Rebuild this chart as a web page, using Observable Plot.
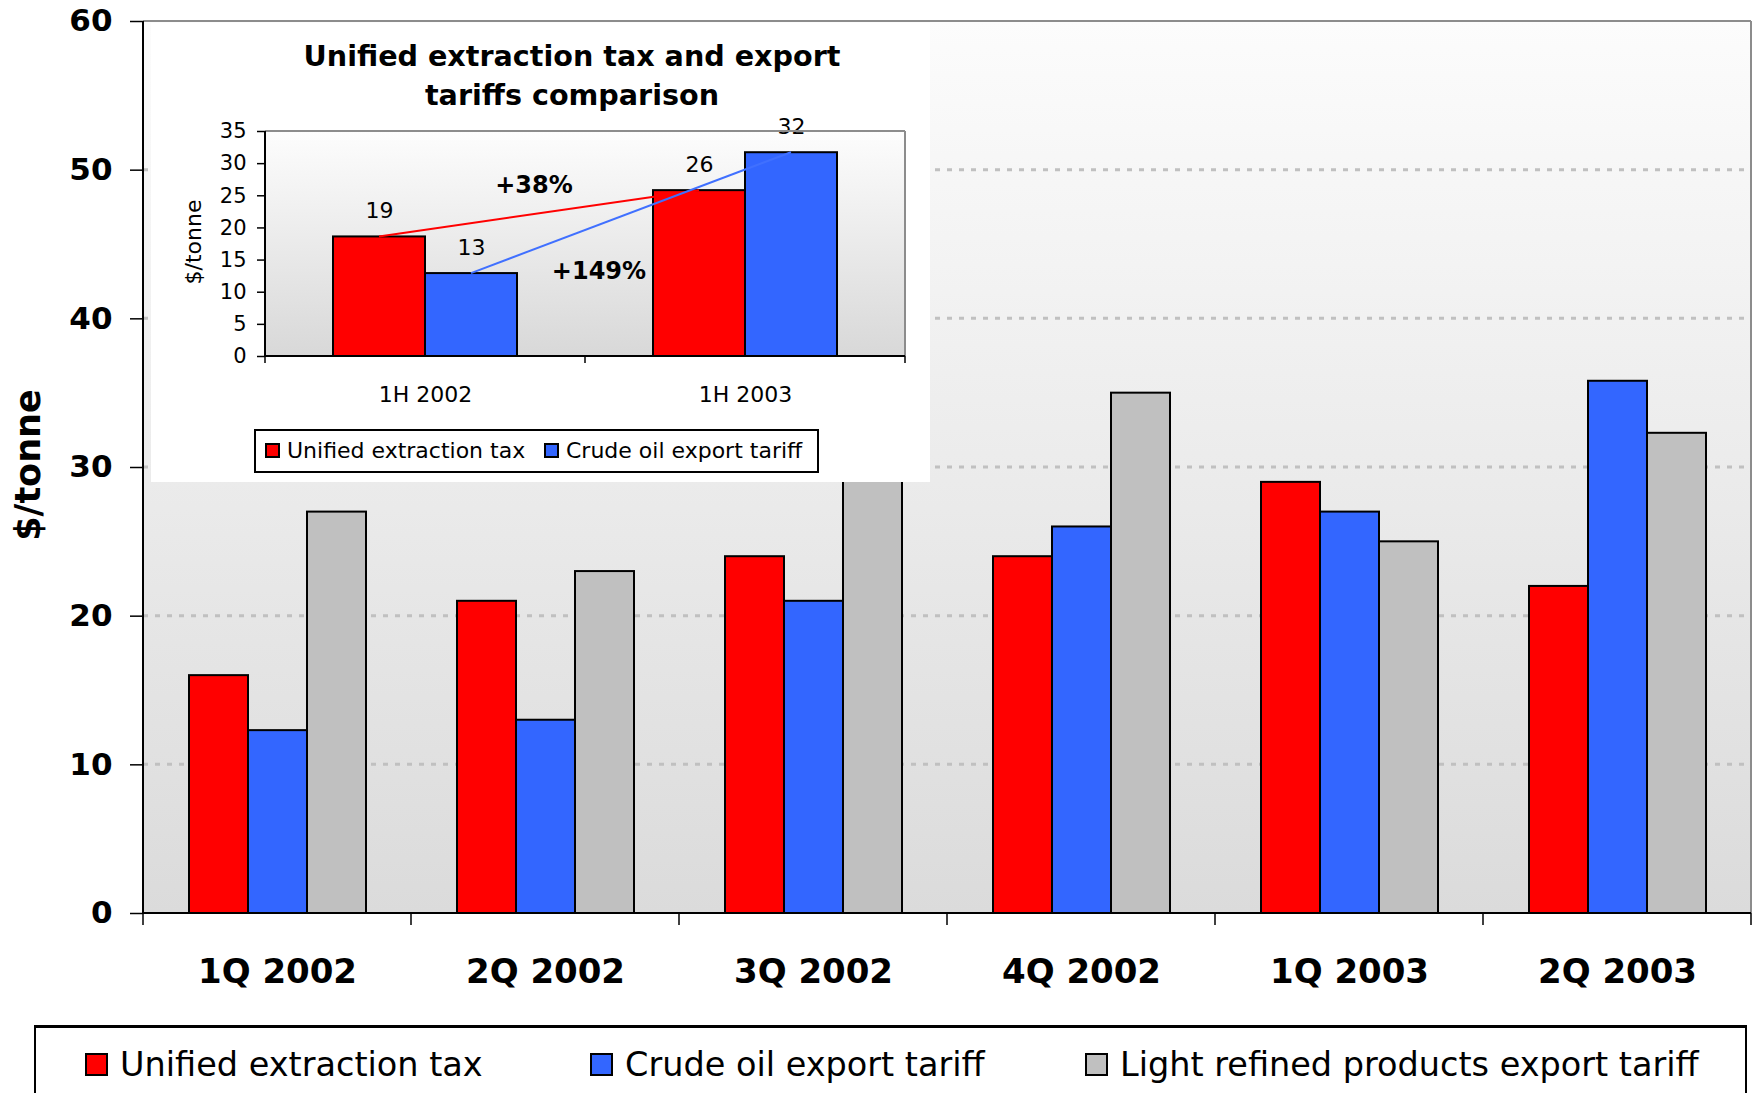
<!DOCTYPE html>
<html>
<head>
<meta charset="utf-8">
<script src="https://cdn.jsdelivr.net/npm/d3@7"></script>
<script src="https://cdn.jsdelivr.net/npm/@observablehq/plot@0.6"></script>
<style>
html, body { margin: 0; padding: 0; background: #fff; }
body { width: 1756px; height: 1093px; overflow: hidden; position: relative; font-family: "DejaVu Sans", Verdana, sans-serif; color: #000; }
#main { position: absolute; left: 0; top: 0; }
#ylab { position: absolute; left: 28px; top: 465px; transform: translate(-50%, -50%) rotate(-90deg); font-weight: bold; font-size: 35px; white-space: nowrap; }
#inset { position: absolute; left: 151px; top: 23px; width: 779px; height: 459px; background: #fff; }
#ititle { position: absolute; left: 21px; top: 14px; width: 800px; text-align: center; font-weight: bold; font-size: 28.6px; line-height: 39px; }
#iplot { position: absolute; left: 0; top: 97px; }
#iylab { position: absolute; left: 42px; top: 219px; transform: translate(-50%, -50%) rotate(-90deg); font-size: 22px; white-space: nowrap; }
#ilegend { position: absolute; left: 103px; top: 406px; width: 565px; height: 44px; box-sizing: border-box; border: 2px solid #000; font-size: 22px; }
.item { position: absolute; display: flex; align-items: center; white-space: nowrap; }
.sw { box-sizing: border-box; border: 2px solid #000; display: inline-block; }
#legend { position: absolute; left: 34px; top: 1025px; width: 1713px; height: 100px; box-sizing: border-box; border: 2px solid #000; border-top-width: 3px; font-size: 33.5px; }
</style>
</head>
<body>
<div id="main"></div>
<div id="ylab">$/tonne</div>
<div id="inset">
  <div id="ititle"></div>
  <div id="iplot"></div>
  <div id="iylab">$/tonne</div>
  <div id="ilegend"></div>
</div>
<div id="legend"></div>
<script>
// ---------- data ----------
const quarters = ["1Q 2002", "2Q 2002", "3Q 2002", "4Q 2002", "1Q 2003", "2Q 2003"];
const series = ["Unified extraction tax", "Crude oil export tariff", "Light refined products export tariff"];
const seriesColors = ["#ff0000", "#3366ff", "#c0c0c0"];
const extractionTax = [16, 21, 24, 24, 29, 22];
const crudeTariff = [12.3, 13, 21, 26, 27, 35.8];
const lightTariff = [27, 23, 31, 35, 25, 32.3];
const yTicks = [0, 10, 20, 30, 40, 50, 60];

const insetTitle = ["Unified extraction tax and export", "tariffs comparison"];
const halves = ["1H 2002", "1H 2003"];
const insetSeries = ["Unified extraction tax", "Crude oil export tariff"];
const insetExtraction = [18.6, 25.8];
const insetCrude = [12.9, 31.7];
const insetTicks = [0, 5, 10, 15, 20, 25, 30, 35];
const changeLabels = ["+38%", "+149%"];

// ---------- tables ----------
const valuesBySeries = [extractionTax, crudeTariff, lightTariff];
const mainData = quarters.flatMap((q, i) => series.map((s, j) => ({quarter: q, series: s, value: valuesBySeries[j][i]})));
const insetValues = [insetExtraction, insetCrude];
const insetData = halves.flatMap((h, i) => insetSeries.map((s, j) => ({half: h, series: s, value: insetValues[j][i]})));

const FONT = "'DejaVu Sans', Verdana, sans-serif";

function addGradient(svg, id, top, bottom) {
  const defs = d3.select(svg).insert("defs", ":first-child");
  const g = defs.append("linearGradient").attr("id", id).attr("x1", 0).attr("y1", 0).attr("x2", 0).attr("y2", 1);
  g.append("stop").attr("offset", "0%").attr("stop-color", top);
  g.append("stop").attr("offset", "100%").attr("stop-color", bottom);
}

// background + gridlines drawn once (in the first facet) across all facets
function bgRender(opt) {
  return (index, scales) => {
    const {x, y} = scales;
    const [x0, x1] = x.range();
    const g = d3.create("svg:g");
    if (index[0] !== 0) return g.node();
    const xEnd = x0 + (x1 - x0) * opt.n;
    g.append("rect").attr("x", x0).attr("y", y(opt.top)).attr("width", xEnd - x0).attr("height", y(0) - y(opt.top)).attr("fill", `url(#${opt.grad})`);
    (opt.grid || []).forEach(v => {
      g.append("line").attr("x1", x0).attr("x2", xEnd).attr("y1", y(v)).attr("y2", y(v))
        .attr("stroke", "#c0c0c0").attr("stroke-width", 3).attr("stroke-dasharray", "5,7");
    });
    return g.node();
  };
}

// category-boundary ticks, axis lines, frame and connectors inside each facet
function edgeRender(opt) {
  return (index, scales) => {
    const {x, y} = scales;
    const [x0, x1] = x.range();
    const yb = y(0), yt = y(opt.top);
    const i = index[0];
    const first = i === 0, last = i === opt.n - 1;
    const g = d3.create("svg:g");
    const line = (a, b, c, d, stroke, w) => g.append("line").attr("x1", a).attr("y1", b).attr("x2", c).attr("y2", d).attr("stroke", stroke).attr("stroke-width", w);
    if (opt.frame) {
      line(x0, yt, x1, yt, opt.frame, 2);
      if (last) line(x1, yt, x1, yb, opt.frame, 2);
    }
    if (opt.connectors && first) {
      const step = x1 - x0;
      opt.connectors.forEach(c => {
        const xa = x(c.series) + x.bandwidth() / 2;
        const xb = xa + step;
        const ya = y(c.values[0]), yb2 = y(c.values[1]);
        line(xa, ya, xb, yb2, c.color, 2);
        g.append("text").attr("x", (xa + xb) / 2 + c.dx).attr("y", (ya + yb2) / 2 + c.dy)
          .attr("text-anchor", "middle").attr("dominant-baseline", "central")
          .attr("font-size", opt.labelSize).attr("font-weight", "bold").attr("font-family", FONT).attr("fill", "#000")
          .text(c.label);
      });
    }
    line(x0, yb, x1, yb, "#000", opt.axisWidth);
    line(x0, yb, x0, yb + opt.tick, "#000", opt.tickWidth);
    if (last) line(x1, yb, x1, yb + opt.tick, "#000", opt.tickWidth);
    if (first) line(x0, yt, x0, yb + (opt.axisExtra || 0), "#000", opt.axisWidth);
    return g.node();
  };
}

// ---------- main chart ----------
const main = Plot.plot({
  width: 1756,
  height: 1000,
  marginTop: 21,
  marginBottom: 87,
  marginLeft: 141,
  marginRight: 4,
  style: {fontFamily: FONT, background: "transparent", overflow: "visible", color: "#000"},
  fx: {domain: quarters, padding: 0, label: null},
  x: {domain: series, paddingInner: 0, paddingOuter: 0.735, axis: null},
  y: {domain: [0, 60], label: null},
  color: {domain: series, range: seriesColors},
  marks: [
    Plot.ruleY(quarters.map(q => ({q})), {fx: "q", y: () => 0, render: bgRender({n: quarters.length, top: 60, grad: "mainBg", grid: yTicks.filter(v => v > 0 && v < 60)})}),
    Plot.barY(mainData, {fx: "quarter", x: "series", y: "value", fill: "series", stroke: "#000", strokeWidth: 2}),
    Plot.ruleY(quarters.map(q => ({q})), {fx: "q", y: () => 0, render: edgeRender({n: quarters.length, top: 60, tick: 12, axisWidth: 2, tickWidth: 1.5, frame: "#8c8c8c"})}),
    Plot.axisY({ticks: yTicks, tickSize: 13, tickPadding: 18, fontSize: 31, fontWeight: "bold", strokeWidth: 1.5, label: null}),
    Plot.axisFx({anchor: "bottom", tickSize: 0, tickPadding: 45, fontSize: 34, fontWeight: "bold", label: null})
  ]
});
addGradient(main, "mainBg", "#fcfcfc", "#dbdbdb");
document.getElementById("main").appendChild(main);

// ---------- inset chart ----------
document.getElementById("ititle").innerHTML = insetTitle.join("<br>");
const inset = Plot.plot({
  width: 779,
  height: 300,
  marginTop: 11,
  marginBottom: 64,
  marginLeft: 114,
  marginRight: 25,
  style: {fontFamily: FONT, background: "transparent", overflow: "visible", color: "#000"},
  fx: {domain: halves, padding: 0, label: null},
  x: {domain: insetSeries, paddingInner: 0, paddingOuter: 0.739, axis: null},
  y: {domain: [0, 35], label: null},
  color: {domain: insetSeries, range: seriesColors.slice(0, 2)},
  marks: [
    Plot.ruleY(halves.map(h => ({h})), {fx: "h", y: () => 0, render: bgRender({n: halves.length, top: 35, grad: "insetBg"})}),
    Plot.barY(insetData, {fx: "half", x: "series", y: "value", fill: "series", stroke: "#000", strokeWidth: 2}),
    Plot.text(insetData, {fx: "half", x: "series", y: "value", text: d => d3.format(".0f")(d.value), dy: -26, fontSize: 22, lineAnchor: "middle"}),
    Plot.ruleY(halves.map(h => ({h})), {fx: "h", y: () => 0, render: edgeRender({
      n: halves.length, top: 35, tick: 7, axisWidth: 2, tickWidth: 1.5, frame: "#8c8c8c", labelSize: 24,
      connectors: [
        {series: insetSeries[0], values: insetExtraction, color: "#ff0000", label: changeLabels[0], dx: -5, dy: -28},
        {series: insetSeries[1], values: insetCrude, color: "#4070ff", label: changeLabels[1], dx: -32, dy: 58}
      ]
    })}),
    Plot.axisY({ticks: insetTicks, tickSize: 8, tickPadding: 11, fontSize: 21, strokeWidth: 1.5, label: null}),
    Plot.axisFx({anchor: "bottom", tickSize: 0, tickPadding: 30, fontSize: 22, label: null})
  ]
});
addGradient(inset, "insetBg", "#fdfdfd", "#d8d8d8");
document.getElementById("iplot").appendChild(inset);

// ---------- legends ----------
function buildLegend(el, names, colors, lefts, top, sw, gap) {
  names.forEach((n, i) => {
    const item = document.createElement("div");
    item.className = "item";
    item.style.left = lefts[i] + "px";
    item.style.top = top + "px";
    const s = document.createElement("span");
    s.className = "sw";
    s.style.width = sw + "px";
    s.style.height = sw + "px";
    s.style.background = colors[i];
    s.style.marginRight = gap + "px";
    item.appendChild(s);
    item.appendChild(document.createTextNode(n));
    el.appendChild(item);
  });
}
buildLegend(document.getElementById("ilegend"), insetSeries, seriesColors, [9, 288], 7, 15, 7);
buildLegend(document.getElementById("legend"), series, seriesColors, [49, 554, 1049], 17, 23, 12);
</script>
</body>
</html>
